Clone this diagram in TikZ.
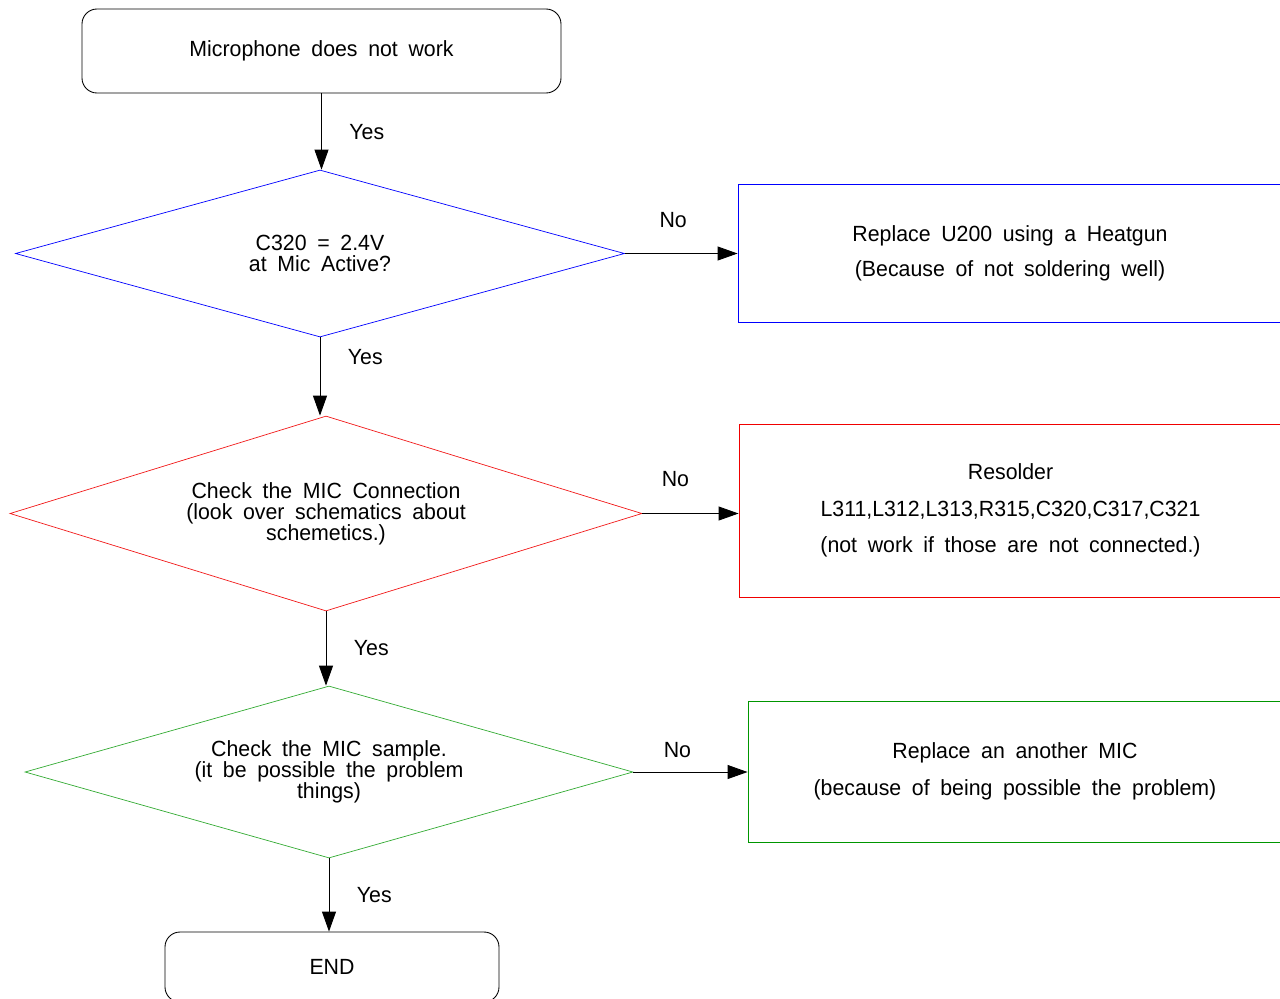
\documentclass[tikz,border=0pt]{standalone}
\usepackage{fontspec}
\setmainfont{Liberation Sans}[FakeStretch=0.97,WordSpace=1.8]
\usetikzlibrary{shapes.geometric,arrows.meta}
\definecolor{mblue}{RGB}{0,0,255}
\definecolor{mred}{RGB}{240,0,0}
\definecolor{mgreen}{RGB}{0,150,0}
\tikzset{
  term/.style={draw,rounded corners=3mm,line width=0.5pt,align=center},
  test/.style={draw,diamond,shape aspect=3.3,inner sep=0pt,line width=0.4pt,align=center,
    font=\fontsize{12.5pt}{12pt}\selectfont},
  fix/.style={draw,rectangle,line width=0.5pt,align=center},
  arr/.style={-{Triangle[length=4mm,width=2.8mm]},line width=0.5pt},
  lbl/.style={inner sep=0pt}
}
\begin{document}
\begin{tikzpicture}[x=0.2mm,y=-0.2mm,font=\fontsize{12.5pt}{14pt}\selectfont]
      \useasboundingbox (0,0) rectangle (1280,998);
      \draw
        (321.5,51) node[term,minimum width=95.8mm,minimum height=16.8mm] (0){Microphone does not work}
        (320,253.5) node[test,mblue,text=black,minimum width=121.8mm,minimum height=33.4mm] (1){C320 = 2.4V\\at Mic Active?}
        (326,513.5) node[test,mred!90!white,text=black,minimum width=126.4mm,minimum height=39mm] (2){Check the MIC Connection\\(look over schematics about\\schemetics.)}
        (329,772) node[test,mgreen!80!white,text=black,minimum width=121.6mm,minimum height=34.4mm] (3){Check the MIC sample.\\(it be possible the problem\\things)}
        (1010,253.5) node[fix,mblue,text=black,minimum width=108.8mm,minimum height=27.6mm] (4){Replace U200 using a Heatgun\\[2.2mm](Because of not soldering well)}
        (1010.5,510.5) node[fix,mred,text=black,minimum width=108.6mm,minimum height=34.6mm] (5){Resolder\\[2.4mm]L311,L312,L313,R315,C320,C317,C321\\[2.4mm](not work if those are not connected.)}
        (1015,771.5) node[fix,mgreen,text=black,minimum width=106.8mm,minimum height=28.2mm] (6){Replace an another MIC\\[2.6mm](because of being possible the problem)}
        (332,967) node[term,minimum width=66.8mm,minimum height=14mm] (7){END};
      \begin{scope}[arr]
        \draw (0.south) -- (0.south |- 1.north) node[lbl,midway,right=5.5mm]{Yes};
        \draw (1.south) -- (1.south |- 2.north) node[lbl,pos=0.25,right=5.5mm]{Yes};
        \draw (2.south) -- (2.south |- 3.north) node[lbl,midway,right=5.5mm]{Yes};
        \draw (3.south) -- (3.south |- 7.north) node[lbl,midway,right=5.5mm]{Yes};
        \draw (1.east) -- (1.east -| 4.west) node[lbl,midway,above=5mm,xshift=-1.6mm]{No};
        \draw (2.east) -- (2.east -| 5.west) node[lbl,midway,above=5.3mm,xshift=-3mm]{No};
        \draw (3.east) -- (3.east -| 6.west) node[lbl,midway,above=2.8mm,xshift=-2.6mm]{No};
      \end{scope}
    \end{tikzpicture}
\end{document}
